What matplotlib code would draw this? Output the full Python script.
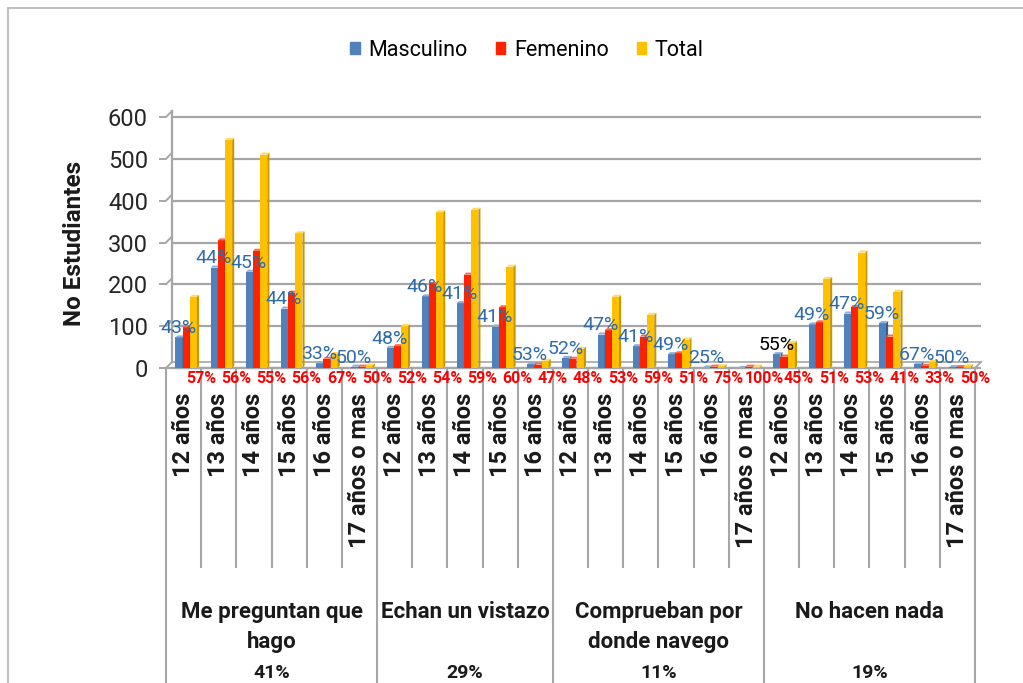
import matplotlib
matplotlib.use("Agg")
import matplotlib.pyplot as plt
from matplotlib.patches import Patch, Polygon, Rectangle
import matplotlib.transforms as mtransforms
import numpy as np

plt.rcParams['font.family'] = ['Roboto', 'DejaVu Sans']

# datos
edades = ["12 años", "13 años", "14 años", "15 años", "16 años", "17 años o mas",
          "12 años", "13 años", "14 años", "15 años", "16 años",
          "12 años", "13 años", "14 años", "15 años", "16 años", "17 años o mas",
          "12 años", "13 años", "14 años", "15 años", "16 años", "17 años o mas"]
grupos = ["Me preguntan que\nhago", "Echan un vistazo", "Comprueban por\ndonde navego", "No hacen nada"]
grupos_pct = ["41%", "29%", "11%", "19%"]
grupos_n = [6, 5, 6, 6]

masculino = [73, 240, 230, 142, 11, 3, 48, 171, 155, 99, 9,
             24, 80, 52, 33, 1, 0, 33, 104, 130, 107, 10, 2]
femenino = [97, 305, 280, 180, 22, 3, 52, 201, 223, 145, 8,
            22, 90, 75, 35, 3, 3, 27, 109, 146, 75, 5, 2]
total = [170, 545, 510, 322, 33, 6, 100, 372, 378, 242, 17,
         46, 170, 127, 68, 4, 3, 60, 213, 276, 182, 15, 4]

pct_masc = ["43%", "44%", "45%", "44%", "33%", "50%", "48%", "46%", "41%", "41%", "53%",
            "52%", "47%", "41%", "49%", "25%", "", "55%", "49%", "47%", "59%", "67%", "50%"]
pct_fem = ["57%", "56%", "55%", "56%", "67%", "50%", "52%", "54%", "59%", "60%", "47%",
           "48%", "53%", "59%", "51%", "75%", "100%", "45%", "51%", "53%", "41%", "33%", "50%"]

series = [("Masculino", masculino, '#4F81BD', '#385D8A', '#8DB0DB'),
          ("Femenino", femenino, '#FF2200', '#B81800', '#FF6A4D'),
          ("Total", total, '#FFC000', '#C79500', '#FFDA66')]

W, H = 1023, 683
fig = plt.figure(figsize=(W / 100, H / 100), dpi=100)
ax = fig.add_axes([166 / W, 1 - 368 / H, 809 / W, 251 / H])
n = len(edades)
ax.set_xlim(0, n)
ax.set_ylim(0, 600)
for s in ax.spines.values():
    s.set_visible(False)

# profundidad 3D aproximada (6 px)
ux = 809 / n
uy = 251 / 600
dx, dy = 6 / ux, 6 / uy
grid_c = '#A6A6A6'
yt = np.arange(0, 700, 100)
ax.hlines(yt, dx, n + dx, color=grid_c, lw=1.6, zorder=0, clip_on=False)
ax.plot([dx, dx], [dy, 600 + dy], color=grid_c, lw=1.6, clip_on=False, zorder=0)
for v in yt:
    ax.plot([0, dx], [v, v + dy], color=grid_c, lw=1.4, clip_on=False, zorder=0)
ax.plot([0, n], [0, 0], color=grid_c, lw=1.6, clip_on=False, zorder=0)
ax.plot([n, n + dx], [0, dy], color=grid_c, lw=1.4, clip_on=False, zorder=0)
ax.hlines([dy], dx, n + dx, color=grid_c, lw=1.2, clip_on=False, zorder=0)

ax.set_yticks(yt)
ax.tick_params(axis='y', length=5, width=1.4, color=grid_c, pad=8,
               labelsize=17, labelcolor='#262626')
ax.set_xticks([])

# barras con un poco de efecto 3D
x = np.arange(n) + 0.5
w = 0.2
offs = [-0.13, 0.07, 0.28]
bdx, bdy = dx * 0.35, dy * 0.35
for (name, vals, fc, sc, tc), o in zip(series, offs):
    xs = x + o
    ax.bar(xs, vals, width=w, color=fc, zorder=3)
    for xi, v in zip(xs, vals):
        r = xi + w / 2
        l = xi - w / 2
        ax.add_patch(Polygon([(r, 0), (r, v), (r + bdx, v + bdy), (r + bdx, bdy)],
                             closed=True, fc=sc, ec='none', zorder=3))
        ax.add_patch(Polygon([(l, v), (r, v), (r + bdx, v + bdy), (l + bdx, v + bdy)],
                             closed=True, fc=tc, ec='none', zorder=3))

# etiquetas de porcentaje
for i in range(n):
    c = '#000000' if i == 17 else '#2F6CA8'
    ax.text(x[i] - 0.15, masculino[i] + 22, pct_masc[i], ha='center', va='center',
            fontsize=14, color=c, zorder=5)
trans_b = mtransforms.blended_transform_factory(ax.transData, ax.transAxes)
for i in range(n):
    ax.text(x[i] + 0.5, -0.04, pct_fem[i], ha='center', va='center', fontsize=11.5,
            fontweight='bold', color='#FF0000', transform=trans_b, zorder=5)

# eje de categorias
sep_c = '#A6A6A6'
bounds = np.cumsum([0] + grupos_n)
for b in range(n + 1):
    y_end = -1.35 if b in bounds else -(567 - 368) / 251
    ax.plot([b, b], [0, y_end], color=sep_c, lw=1.5, transform=trans_b, clip_on=False)
for i, lab in enumerate(edades):
    ax.text(x[i], -(393 - 368) / 251, lab, rotation=90, ha='center', va='top',
            fontsize=17, fontweight='bold', color='#1a1a1a', transform=trans_b)
for g in range(len(grupos)):
    cx = (bounds[g] + bounds[g + 1]) / 2
    ax.text(cx, -(601 - 368) / 251, grupos[g], ha='center', va='top', fontsize=16,
            fontweight='bold', color='#1a1a1a', linespacing=1.45, transform=trans_b)
    ax.text(cx, -(682 - 368) / 251, grupos_pct[g], ha='center', va='bottom', fontsize=14,
            fontweight='bold', color='#1a1a1a', transform=trans_b)

ax.set_ylabel("No Estudiantes", fontsize=17.5, fontweight='bold', color='#1a1a1a')
ax.yaxis.set_label_coords(-(166 - 86) / 809, (368 - 243) / 251)

handles = [Patch(color=s[2]) for s in series]
fig.legend(handles, [s[0] for s in series], loc='center', bbox_to_anchor=(527 / W, 1 - 50 / H),
           ncol=3, frameon=False, fontsize=15.5, handlelength=0.45, handleheight=0.45,
           handletextpad=0.4, columnspacing=1.3)

fig.patches.append(Rectangle((8 / W, -0.1), 1.2, 1.1 - 8 / H, transform=fig.transFigure,
                             fill=False, ec='#BFBFBF', lw=1.5))

fig.savefig("out.png", dpi=100)
